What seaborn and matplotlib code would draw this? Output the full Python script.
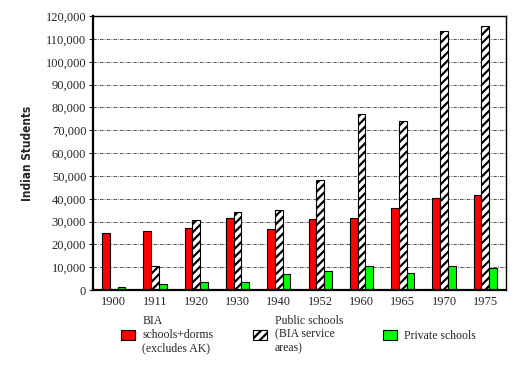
import numpy as np
import pandas as pd
import seaborn as sns
import matplotlib.pyplot as plt
from matplotlib.ticker import FuncFormatter, MultipleLocator
from matplotlib.patches import Patch

years = ['1900', '1911', '1920', '1930', '1940', '1952', '1960', '1965', '1970', '1975']
bia = [25000, 26000, 27000, 31800, 26600, 31000, 31800, 35800, 40200, 41600]
public = [300, 10500, 30600, 34400, 35300, 48100, 77300, 73900, 113300, 115500]
private = [1200, 2500, 3400, 3400, 6900, 8600, 10400, 7700, 10400, 9900]

series = ['BIA\nschools+dorms\n(excludes AK)', 'Public schools\n(BIA service\nareas)', 'Private schools']
colors = ['#ff0000', '#ffffff', '#00ff00']

df = pd.DataFrame({
    'year': years * 3,
    'students': bia + public + private,
    'series': [series[0]] * len(years) + [series[1]] * len(years) + [series[2]] * len(years),
})

sns.set_style('white')
plt.rcParams['font.family'] = ['Liberation Serif', 'DejaVu Serif']
plt.rcParams['hatch.linewidth'] = 1.6

fig = plt.figure(figsize=(5.2, 3.65), dpi=100)
ax = fig.add_axes([0.179, 0.205, 0.794, 0.751])

sns.barplot(data=df, x='year', y='students', hue='series', palette=colors,
            width=0.56, edgecolor='black', linewidth=0.8, legend=False, ax=ax, saturation=1)

for bar in ax.containers[1]:
    bar.set_hatch('////')

ax.set_ylim(0, 120000)
ax.yaxis.set_major_locator(MultipleLocator(10000))
ax.yaxis.set_major_formatter(FuncFormatter(lambda v, p: f'{int(v):,}'))
ax.grid(axis='y', color='#333333', linestyle=(0, (4, 1.5, 1, 1.5)), linewidth=0.6)
ax.set_axisbelow(True)
for s in ax.spines.values():
    s.set_color('black')
    s.set_linewidth(1.0)
ax.spines['left'].set_linewidth(1.6)
ax.spines['bottom'].set_linewidth(1.6)
ax.tick_params(axis='y', left=True, length=3, width=0.8, labelsize=9, pad=2)
ax.tick_params(axis='x', bottom=False, labelsize=9, pad=1)
ax.set_xlabel('')
ax.set_ylabel('Indian Students', fontsize=8.5, fontweight='bold',
              family='DejaVu Sans', fontstretch='condensed', labelpad=8)

handles = [Patch(facecolor=colors[i], edgecolor='black', linewidth=0.8,
                 hatch='////' if i == 1 else None, label=series[i]) for i in range(3)]
fig.legend(handles=handles, loc='lower left', bbox_to_anchor=(0.212, 0.0), ncol=3,
           frameon=False, fontsize=8.5, columnspacing=3.4, handlelength=1.2,
           handleheight=0.9, handletextpad=0.6, labelspacing=0.2)

fig.savefig('out.png', dpi=100)
